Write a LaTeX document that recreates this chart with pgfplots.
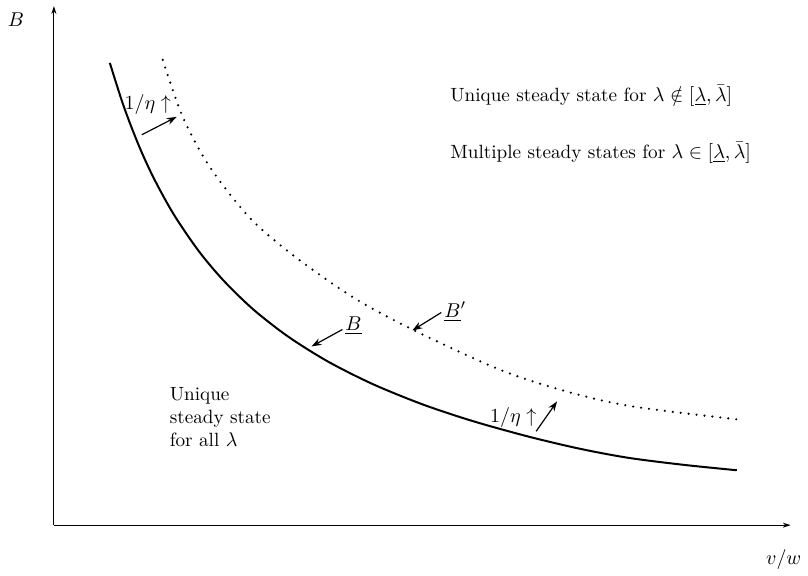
\documentclass[border=0pt]{standalone}
\usepackage{pgfplots}
\pgfplotsset{compat=1.18}
\usetikzlibrary{arrows.meta}
\begin{document}
\begin{tikzpicture}[font=\fontsize{9.6pt}{11.5pt}\selectfont]
\begin{axis}[
    x=0.5pt, y=0.5pt,
    xmin=0, xmax=738, ymin=0, ymax=520,
    axis lines=left,
    axis line style={line width=0.5pt, -{Stealth[length=4pt,width=2.5pt]}},
    xtick=\empty, ytick=\empty,
    clip=false,
]
% invisible frame giving the page its size
\path (axis cs:-54,-47) rectangle (axis cs:754,526);

% B (solid)
\addplot[black, line width=1pt, smooth, mark=none] coordinates {
  (56,463) (70,419.3) (85,380.3) (100,347.6) (120,311.3) (145,274.6)
  (170,244.9) (200,215.8) (235,188.6) (275,163.6) (320,141) (370,120.7)
  (420,104.1) (475,88.8) (526,76.7) (575,67.5) (630,60.5) (684,55)
};
% B' (dotted)
\addplot[black, line width=1.2pt, smooth, tension=0.5, mark=none, line cap=round,
         dash pattern=on 0pt off 4pt] coordinates {
  (109,466) (129,409) (156,359) (196,308) (240,270) (300,228)
  (359,196) (446,156) (513,134) (579,119) (684,106)
};

% arrows
\draw[line width=0.6pt, -{Stealth[length=5pt,width=3.5pt]}] (axis cs:88,391) -- (axis cs:123,409);
\draw[line width=0.6pt, -{Stealth[length=5pt,width=3.5pt]}] (axis cs:289,196) -- (axis cs:258,179);
\draw[line width=0.6pt, -{Stealth[length=5pt,width=3.5pt]}] (axis cs:388,213) -- (axis cs:359,195);
\draw[line width=0.6pt, -{Stealth[length=5pt,width=3.5pt]}] (axis cs:483,94) -- (axis cs:504,124);

% labels
\node at (axis cs:94,421) {$1/\eta\uparrow$};
\node at (axis cs:460,108) {$1/\eta\uparrow$};
\node at (axis cs:300,200) {$\underline{B}$};
\node at (axis cs:402,214) {$\underline{B}'$};
\node[anchor=west] at (axis cs:390,430) {Unique steady state for $\lambda\notin[\underline{\lambda},\bar{\lambda}]$};
\node[anchor=west] at (axis cs:390,373) {Multiple steady states for $\lambda\in[\underline{\lambda},\bar{\lambda}]$};
\node[anchor=west, align=left] at (axis cs:109,108) {Unique\\steady state\\for all $\lambda$};
\node at (axis cs:-38,506) {$B$};
\node at (axis cs:731,-34) {$v/w$};
\end{axis}
\end{tikzpicture}
\end{document}
